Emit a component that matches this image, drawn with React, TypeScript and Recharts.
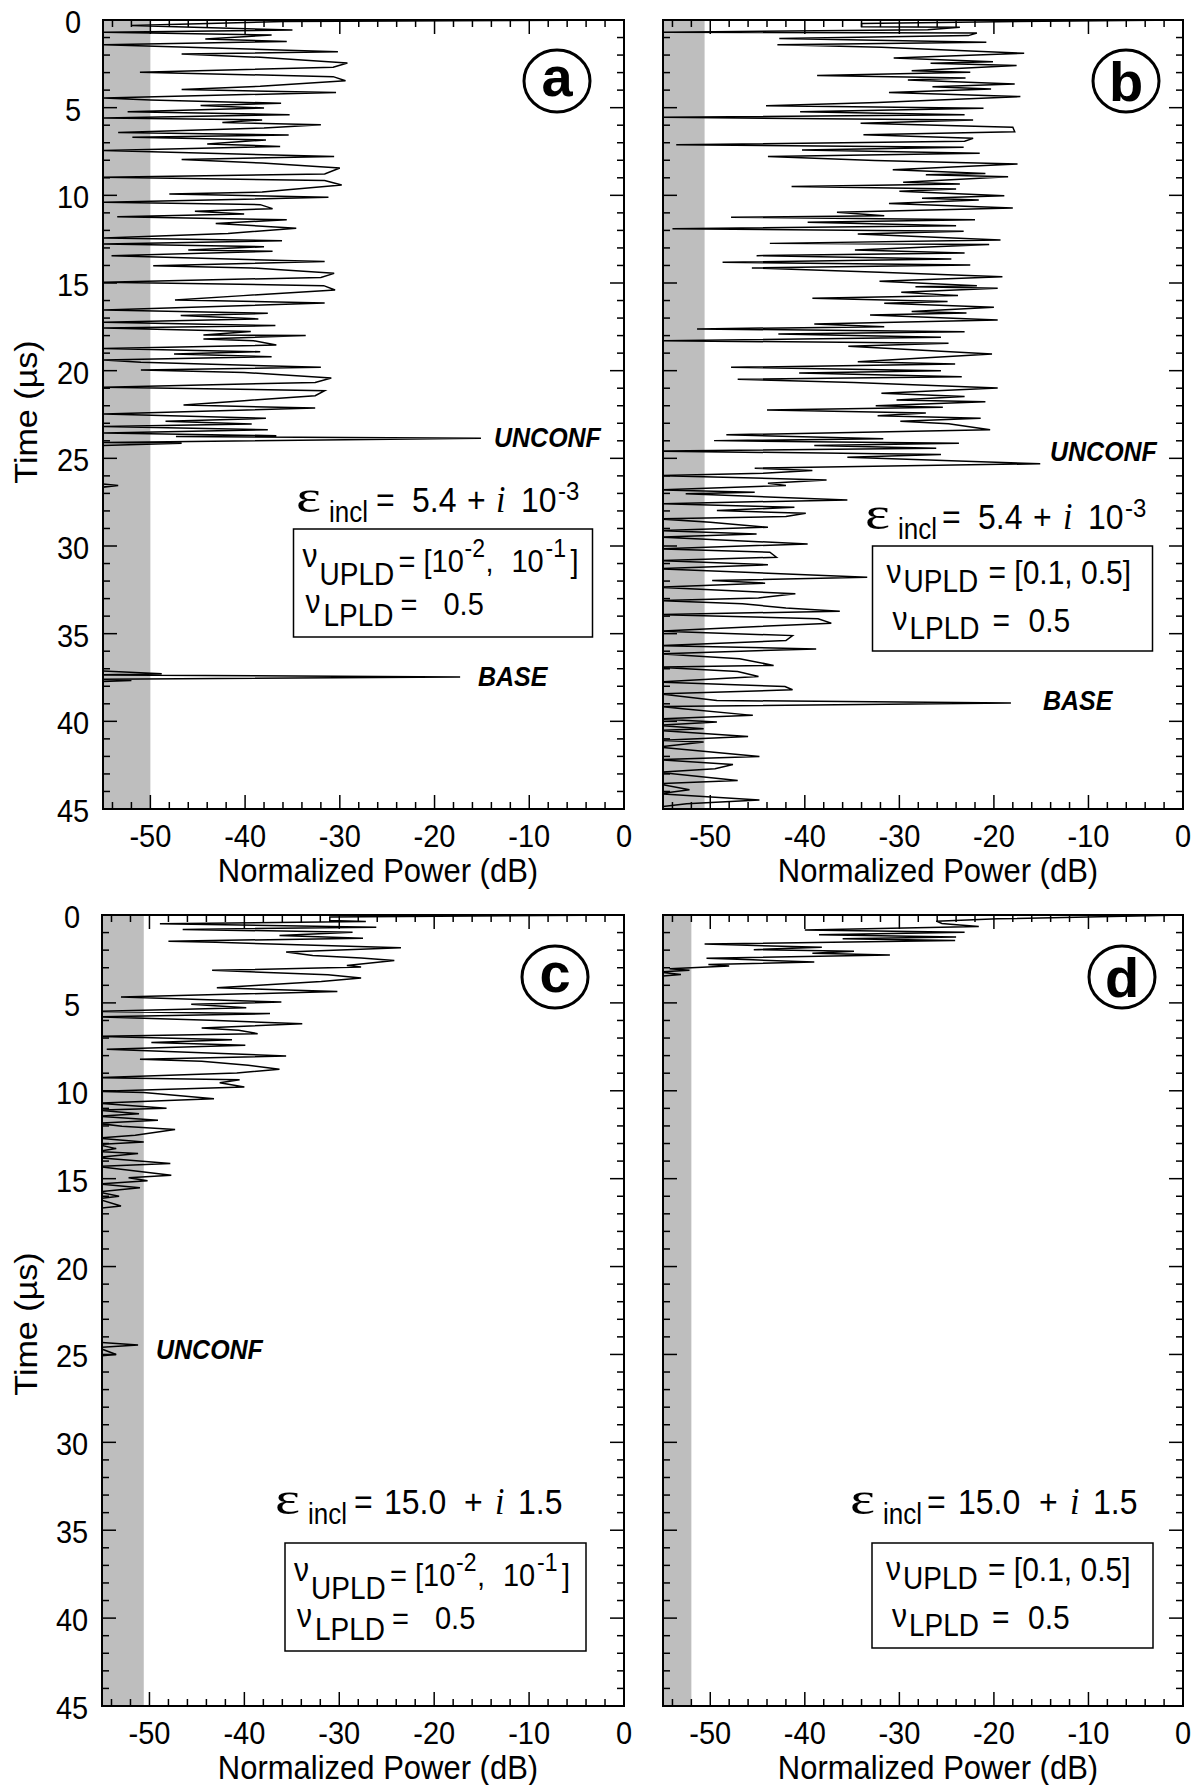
import React from 'react';
import { ScatterChart, Scatter, XAxis, YAxis, ReferenceArea } from 'recharts';

const FONT = '"Liberation Sans", Arial, Helvetica, sans-serif';
const SY = 1.1;

// ---------- data (time in µs, normalized power in dB) ----------
const timeA = [0, 0.08, 0.32, 0.57, 0.7, 0.86, 1.08, 1.22, 1.41, 1.81,
  1.94, 2.13, 2.45, 2.7, 2.98, 3.23, 3.46, 3.78, 3.97, 4.13,
  4.45, 4.56, 4.75, 4.87, 5.02, 5.23, 5.4, 5.59, 5.7, 5.84,
  5.97, 6.16, 6.41, 6.56, 6.69, 6.84, 7.07, 7.21, 7.45, 7.79,
  7.95, 8.16, 8.44, 8.78, 8.97, 9.16, 9.41, 9.81, 9.92, 10.11,
  10.4, 10.53, 10.76, 10.91, 11.06, 11.22, 11.39, 11.6, 11.88, 12.17,
  12.43, 12.59, 12.78, 12.93, 13.12, 13.19, 13.44, 13.78, 14.01, 14.14,
  14.45, 14.68, 14.96, 15.15, 15.4, 15.72, 15.97, 16.14, 16.54, 16.73,
  16.86, 17.05, 17.24, 17.43, 17.57, 17.76, 17.97, 18.0, 18.19, 18.29,
  18.54, 18.73, 18.92, 19.05, 19.2, 19.39, 19.52, 19.81, 19.96, 20.1,
  20.42, 20.67, 20.95, 21.14, 21.43, 21.71, 21.96, 22.13, 22.47, 22.72,
  22.89, 23.04, 23.19, 23.37, 23.56, 23.71, 23.76, 23.86, 24.09, 24.14,
  24.28, 26.4, 26.55, 26.7, 37.1, 37.29, 37.35, 37.47, 37.6, 37.67,
  37.75, 45];
const powerA = [0, -35.9, -52, -35, -54.9, -37.2, -44.2, -35.6, -54.9, -30.2,
  -46.7, -38.4, -29.2, -30.7, -51.1, -30.7, -29.4, -38.4, -46.7, -30.4,
  -54.9, -50, -36.2, -44.7, -38, -52.4, -35.3, -54.9, -38.2, -42.4,
  -32, -38, -53.4, -35.4, -51.9, -37.8, -44, -36.3, -54.9, -30.6,
  -46.7, -38.2, -30, -31.6, -54.9, -31.6, -29.8, -38.2, -48, -31.2,
  -54.9, -38.4, -37.1, -45.3, -40.1, -53.5, -35.6, -43.1, -34.6, -41.8,
  -54.9, -36.1, -54.9, -38, -46, -37.1, -54.1, -31.6, -49.7, -39.3,
  -30.6, -32, -54.9, -31.7, -30.5, -40.2, -47.4, -31.6, -54.9, -37.6,
  -46.8, -38.6, -54.9, -36.8, -54.9, -39.4, -44.4, -33.6, -44.4, -39.1,
  -36.7, -54.9, -38.4, -47.5, -37.2, -54.9, -51, -32, -51, -40.1,
  -30.9, -32.6, -54.9, -31.6, -32.6, -40.1, -46.5, -32.6, -54.9, -37.8,
  -48.4, -39.3, -54.9, -37.6, -54.9, -36.7, -47.3, -15.1, -54.9, -46.7,
  -56, -56, -53.4, -56, -56, -48.8, -55.5, -17.3, -55.5, -52,
  -56, -56];

const timeB = [0, 0.1, 0.2, 0.38, 0.42, 0.55, 0.7, 0.74, 0.89, 1.05,
  1.27, 1.41, 1.56, 1.9, 2.17, 2.38, 2.47, 2.6, 2.89, 2.98,
  3.17, 3.31, 3.42, 3.65, 3.8, 3.94, 4.13, 4.37, 4.7, 4.89,
  5.04, 5.23, 5.4, 5.55, 5.7, 5.89, 6.12, 6.37, 6.54, 6.75,
  6.92, 7.11, 7.26, 7.41, 7.6, 7.78, 8.02, 8.21, 8.54, 8.75,
  8.82, 8.94, 9.26, 9.35, 9.49, 9.64, 9.77, 10.02, 10.17, 10.27,
  10.46, 10.72, 10.97, 11.16, 11.25, 11.39, 11.54, 11.73, 11.9, 12.05,
  12.21, 12.55, 12.74, 12.81, 13.12, 13.29, 13.44, 13.63, 13.82, 13.97,
  14.14, 14.39, 14.64, 14.9, 15.15, 15.21, 15.3, 15.53, 15.72, 15.87,
  16.05, 16.16, 16.39, 16.63, 16.71, 16.83, 17.11, 17.34, 17.49, 17.62,
  17.78, 17.91, 18.1, 18.29, 18.44, 18.61, 19.05, 19.49, 19.62, 19.81,
  20.0, 20.13, 20.34, 20.49, 20.67, 20.99, 21.29, 21.48, 21.67, 21.77,
  22.0, 22.09, 22.24, 22.41, 22.57, 22.72, 22.88, 23.03, 23.37, 23.66,
  23.89, 23.99, 24.14, 24.27, 24.42, 24.59, 24.78, 24.94, 25.31, 25.56,
  25.7, 25.85, 25.98, 26.23, 26.42, 26.55, 26.8, 26.93, 27.02, 27.37,
  27.59, 27.79, 27.98, 28.13, 28.32, 28.45, 28.64, 28.93, 29.12, 29.31,
  29.49, 29.88, 30.16, 30.35, 30.64, 30.83, 31.07, 31.3, 31.78, 31.97,
  32.12, 32.35, 32.73, 32.96, 33.11, 33.3, 33.53, 33.72, 33.91, 34.15,
  34.4, 34.72, 34.86, 35.11, 35.39, 35.68, 35.87, 36.15, 36.43, 36.81,
  36.91, 37.16, 37.44, 37.76, 38.01, 38.2, 38.43, 38.81, 38.96, 39.15,
  39.28, 39.66, 39.86, 40.04, 40.23, 40.42, 40.52, 40.86, 41.09, 41.18,
  41.47, 42.0, 42.19, 42.46, 42.71, 42.9, 43.37, 43.56, 43.9, 44.13,
  44.48, 44.7, 44.89, 45];
const powerB = [0, -19.6, -34, -34, -23.6, -27, -55.5, -21.8, -22.7, -42.7,
  -20.8, -42.9, -31.9, -16.8, -30.6, -20.1, -26.7, -17.6, -28.7, -22.5,
  -38.7, -23, -29.1, -17.8, -26.5, -20.3, -31.1, -17.2, -32.3, -44.1,
  -21.1, -40.5, -23.1, -55.5, -22.2, -34.1, -18, -17.8, -33.8, -22.2,
  -23.1, -53.6, -23.2, -40.3, -21.5, -43.9, -32.6, -17.5, -30.7, -20.9,
  -27.2, -18.5, -29.6, -23.6, -41.4, -24, -30, -18.9, -27.6, -21.6,
  -31.1, -18, -36.6, -31.6, -47.8, -22, -39.7, -24, -54, -23.2,
  -34.4, -19.3, -43.7, -20.5, -34.7, -23.1, -45.1, -24.5, -48.7, -22.5,
  -45.6, -32.1, -19.1, -32.1, -21.8, -28.3, -19.6, -29.8, -23.8, -39.2,
  -24.9, -31.6, -20, -28.7, -22.9, -33.1, -19.6, -39, -31.6, -51.4,
  -23.1, -42.8, -25.6, -55.5, -24.8, -35.4, -20.2, -34.4, -24.1, -47.8,
  -25.6, -40.6, -23.4, -47.1, -34.8, -19.6, -31.9, -23.1, -30.3, -20.9,
  -32.5, -25.4, -44, -27.2, -32.3, -21.4, -29.9, -24.8, -20.4, -48.3,
  -31.7, -49.6, -23.7, -39, -26.1, -55.5, -25.6, -35.5, -15.1, -45.3,
  -39.2, -44.4, -55.5, -37.7, -43.9, -42, -55.5, -45.3, -52.6, -35.5,
  -55.5, -41.1, -49.3, -39.9, -42, -55.5, -50, -43.9, -55.5, -45.1,
  -55.5, -39.7, -55.5, -43.7, -43, -55.5, -43.9, -55.5, -33.4, -49.8,
  -44.2, -55.5, -41, -44.9, -55.5, -46.6, -42, -36.3, -55.5, -38.6,
  -37.2, -50, -55.5, -41.3, -42, -55.5, -38.8, -55.5, -46.9, -43.3,
  -55.5, -47.1, -44.9, -55.5, -42.1, -41.3, -55.5, -49.3, -18.2, -55.5,
  -52.9, -45.5, -55.5, -49.3, -55.5, -50.7, -55.5, -46, -55.5, -50.7,
  -55.5, -44.8, -55.5, -47.6, -49.5, -55.5, -47.1, -55.5, -52.2, -55.5,
  -44.8, -52.5, -55.5, -55.5];

const timeC = [0, 0.12, 0.31, 0.37, 0.5, 0.69, 0.82, 0.98, 1.16, 1.32,
  1.49, 1.55, 1.87, 2.11, 2.3, 2.45, 2.59, 2.87, 2.96, 3.15,
  3.4, 3.59, 3.78, 4.01, 4.14, 4.35, 4.67, 4.95, 5.08, 5.27,
  5.48, 5.61, 5.8, 5.99, 6.18, 6.43, 6.56, 6.75, 6.9, 7.09,
  7.26, 7.41, 7.64, 8.02, 8.21, 8.32, 8.55, 8.78, 8.99, 9.25,
  9.37, 9.54, 9.78, 10.03, 10.1, 10.45, 10.7, 10.99, 11.1, 11.3,
  11.45, 11.67, 11.85, 12.02, 12.2, 12.53, 12.7, 12.91, 13.05, 13.29,
  13.45, 13.57, 13.8, 14.14, 14.3, 14.8, 14.95, 15.12, 15.3, 15.52,
  15.75, 16.0, 16.15, 16.56, 16.7, 24.3, 24.46, 24.6, 25.0, 25.1,
  45];
const powerC = [0, -31, -31, -27.2, -48.9, -26.1, -46.5, -28.6, -36.3, -27.5,
  -48, -43, -23.5, -35.6, -32.8, -27.7, -24.2, -29.2, -27.7, -43.4,
  -31.2, -27.7, -31.9, -38.9, -42.9, -30.2, -53, -36.1, -45.6, -39.8,
  -55.5, -37.3, -55.5, -43.6, -33.9, -44.5, -40.6, -38.6, -55.5, -41.3,
  -49.8, -39.9, -54.5, -35.6, -51, -44.5, -39.6, -36.3, -40.8, -55.5,
  -40.5, -42.6, -40, -55.5, -50.6, -43.2, -55.5, -48.2, -55.5, -51.1,
  -55.5, -49.1, -55.5, -52.9, -47.3, -51.5, -55.5, -50.6, -55.5, -53.5,
  -55.5, -51.2, -55.5, -47.8, -55.5, -47.7, -52.2, -50.2, -55.5, -51,
  -55.5, -53.2, -55.5, -53, -55.5, -55.5, -51.2, -55.5, -53.5, -55.5,
  -55.5];

const timeD = [0, 0.22, 0.35, 0.48, 0.52, 0.66, 0.86, 0.98, 1.12, 1.25,
  1.35, 1.45, 1.65, 1.84, 1.97, 2.06, 2.17, 2.27, 2.46, 2.55,
  2.68, 2.81, 2.9, 3.06, 3.15, 3.25, 3.38, 3.5, 45];
const powerD = [0, -19.6, -26.1, -25.5, -24.6, -21.6, -40, -23.1, -38.5, -24,
  -36, -24.1, -50.6, -38.2, -45.4, -34.8, -39.2, -31, -50.4, -45.5,
  -39, -50.2, -48, -54.3, -52.2, -55.5, -53.1, -55.5, -55.5];

// noise-floor (gray band) upper limits, dB
const bandA = -50;
const bandB = -50.6;
const bandC = -50.6;
const bandD = -52;

// axis ticks
const xTicks = [-54, -52, -50, -48, -46, -44, -42, -40, -38, -36, -34, -32, -30, -28,
  -26, -24, -22, -20, -18, -16, -14, -12, -10, -8, -6, -4, -2, 0];
const yTicks = [0, 1, 2, 3, 4, 5, 6, 7, 8, 9, 10, 11, 12, 13, 14, 15, 16, 17, 18, 19, 20,
  21, 22, 23, 24, 25, 26, 27, 28, 29, 30, 31, 32, 33, 34, 35, 36, 37, 38, 39, 40,
  41, 42, 43, 44, 45];

const toData = (ts: number[], ps: number[]) => ts.map((t, i) => ({ t, p: ps[i] }));
const dataA = toData(timeA, powerA);
const dataB = toData(timeB, powerB);
const dataC = toData(timeC, powerC);
const dataD = toData(timeD, powerD);

const NoShape = () => <g />;

// text helper: positioned by translate so that glyphs can be stretched slightly
const T = (x: number, y: number, s: number, str: string, extra: any = {}, sx = 1, sy = SY) => (
  <text transform={`translate(${x} ${y}) scale(${sx} ${sy})`} x={0} y={0} fontSize={s}
    fontFamily={FONT} fill="#000" {...extra}>{str}</text>
);

type PanelProps = {
  left: number; top: number; plotW: number; plotH: number;
  data: { t: number; p: number }[]; band: number; yLabels: boolean;
};

function Panel({ left, top, plotW, plotH, data, band, yLabels }: PanelProps) {
  const ML = 100, MT = 20, MR = 20, XH = 60;
  const W = ML + plotW + MR;
  const H = MT + plotH + XH;
  const pl = ML, pr = ML + plotW, pt = MT, pb = MT + plotH;

  const renderXTick = (props: any) => {
    const { x, payload } = props;
    const v = payload.value;
    const major = v % 10 === 0;
    const len = major ? 14 : 7;
    return (
      <g>
        <line x1={x} x2={x} y1={pb} y2={pb - len} stroke="#000" strokeWidth={1.5} />
        <line x1={x} x2={x} y1={pt} y2={pt + len} stroke="#000" strokeWidth={1.5} />
        {major ? T(x, pb + 38, 29, String(v), { textAnchor: 'middle' }) : null}
      </g>
    );
  };
  const renderYTick = (props: any) => {
    const { y, payload } = props;
    const v = payload.value;
    const major = v % 5 === 0;
    const len = major ? 14 : 7;
    return (
      <g>
        <line x1={pl} x2={pl + len} y1={y} y2={y} stroke="#000" strokeWidth={1.5} />
        <line x1={pr} x2={pr - len} y1={y} y2={y} stroke="#000" strokeWidth={1.5} />
        {major && yLabels ? T(pl - 30, y + 13, 29, String(v), { textAnchor: 'middle' }) : null}
      </g>
    );
  };

  return (
    <div style={{ position: 'absolute', left: left - ML, top: top - MT }}>
      <ScatterChart width={W} height={H} margin={{ top: MT, right: MR, bottom: 0, left: 0 }}>
        <XAxis type="number" dataKey="p" domain={[-55, 0]} allowDataOverflow ticks={xTicks}
          interval={0} height={XH} axisLine={false} tickLine={false} tick={renderXTick} />
        <YAxis type="number" dataKey="t" domain={[0, 45]} reversed allowDataOverflow ticks={yTicks}
          interval={0} width={ML} axisLine={false} tickLine={false} tick={renderYTick} />
        <ReferenceArea x1={-55} x2={band} y1={0} y2={45} fill="#bebebe" fillOpacity={1} stroke="none" />
        <Scatter data={data} fill="#000" isAnimationActive={false} shape={NoShape}
          line={{ stroke: '#000', strokeWidth: 1.5 }} lineJointType="linear" />
        <ReferenceArea x1={-55} x2={0} y1={0} y2={45} fill="none" stroke="#000" strokeWidth={2} />
      </ScatterChart>
    </div>
  );
}

function EpsLine({ xs, y, value, imag, sup }: { xs: number[]; y: number; value: string; imag: string; sup?: string }) {
  return (
    <g>
      {T(xs[0], y, 44, 'ε', { fontFamily: '"Liberation Serif", serif' }, 1.35, 1.05)}
      {T(xs[1], y + 10, 26, 'incl')}
      {T(xs[2], y, 32, '=')}
      {T(xs[3], y, 32, value)}
      {T(xs[4], y, 32, '+')}
      {T(xs[5], y, 34, 'i', { fontFamily: '"Liberation Serif", serif', fontStyle: 'italic' })}
      {T(xs[6], y, 32, imag)}
      {sup ? T(xs[7], y - 12, 24, sup) : null}
    </g>
  );
}

function BoxA({ bx, by, w }: { bx: number; by: number; w: number }) {
  return (
    <g>
      <rect x={bx} y={by} width={w} height={108} fill="none" stroke="#000" strokeWidth={1.5} />
      {T(bx + 9, by + 38, 30, 'ν')}
      {T(bx + 26, by + 56, 28, 'UPLD')}
      {T(bx + 105, by + 43, 29, '= [10')}
      {T(bx + 171, by + 28, 23, '-2')}
      {T(bx + 192, by + 43, 29, ',')}
      {T(bx + 218, by + 43, 29, '10')}
      {T(bx + 252, by + 28, 23, '-1')}
      {T(bx + 277, by + 43, 29, ']')}
      {T(bx + 12, by + 84, 30, 'ν')}
      {T(bx + 30, by + 97, 28, 'LPLD')}
      {T(bx + 107, by + 86, 29, '=')}
      {T(bx + 150, by + 86, 29, '0.5')}
    </g>
  );
}

function BoxB({ bx, by, w }: { bx: number; by: number; w: number }) {
  return (
    <g>
      <rect x={bx} y={by} width={w} height={105} fill="none" stroke="#000" strokeWidth={1.5} />
      {T(bx + 14, by + 37, 30, 'ν')}
      {T(bx + 31, by + 46, 28, 'UPLD')}
      {T(bx + 116, by + 38, 30, '= [0.1, 0.5]')}
      {T(bx + 20, by + 84, 30, 'ν')}
      {T(bx + 37, by + 93, 28, 'LPLD')}
      {T(bx + 120, by + 86, 30, '=')}
      {T(bx + 156, by + 86, 30, '0.5')}
    </g>
  );
}

function Circ({ cx, cy, letter, dy }: { cx: number; cy: number; letter: string; dy: number }) {
  return (
    <g>
      <ellipse cx={cx} cy={cy} rx={33} ry={31} fill="none" stroke="#000" strokeWidth={3} />
      {T(cx, cy + dy, 56, letter, { textAnchor: 'middle', fontWeight: 'bold' }, 1, 1)}
    </g>
  );
}

const lab = { fontWeight: 'bold', fontStyle: 'italic' };

export default function App() {
  return (
    <div style={{ position: 'absolute', left: 0, top: 0, width: 1198, height: 1785, background: '#fff' }}>
      <Panel left={103} top={19.5} plotW={521} plotH={789} data={dataA} band={bandA} yLabels={true} />
      <Panel left={663} top={19.5} plotW={520} plotH={789} data={dataB} band={bandB} yLabels={false} />
      <Panel left={102} top={915} plotW={522} plotH={791} data={dataC} band={bandC} yLabels={true} />
      <Panel left={663} top={915} plotW={520} plotH={791} data={dataD} band={bandD} yLabels={false} />
      <svg width={1198} height={1785} style={{ position: 'absolute', left: 0, top: 0, pointerEvents: 'none' }}>
        <text transform="translate(37 412) rotate(-90) scale(1.1 1)" x={0} y={0} fontSize={31}
          fontFamily={FONT} textAnchor="middle" fill="#000">Time (µs)</text>
        <text transform="translate(37 1324) rotate(-90) scale(1.1 1)" x={0} y={0} fontSize={31}
          fontFamily={FONT} textAnchor="middle" fill="#000">Time (µs)</text>
        {T(378, 882, 31, 'Normalized Power (dB)', { textAnchor: 'middle' })}
        {T(938, 882, 31, 'Normalized Power (dB)', { textAnchor: 'middle' })}
        {T(378, 1779, 31, 'Normalized Power (dB)', { textAnchor: 'middle' })}
        {T(938, 1779, 31, 'Normalized Power (dB)', { textAnchor: 'middle' })}

        <Circ cx={557} cy={81} letter="a" dy={15} />
        <Circ cx={1126} cy={81} letter="b" dy={20} />
        <Circ cx={555} cy={977} letter="c" dy={15} />
        <Circ cx={1122} cy={977} letter="d" dy={20} />

        {T(494, 447, 25, 'UNCONF', lab)}
        {T(478, 686, 25, 'BASE', lab)}
        {T(1050, 461, 25, 'UNCONF', lab)}
        {T(1043, 710, 25, 'BASE', lab)}
        {T(156, 1359, 25, 'UNCONF', lab)}

        <EpsLine xs={[296, 329, 376, 412, 467, 496, 521, 558]} y={512} value="5.4" imag="10" sup="-3" />
        <EpsLine xs={[865, 898, 942, 978, 1033, 1063, 1088, 1125]} y={529} value="5.4" imag="10" sup="-3" />
        <EpsLine xs={[275, 308, 354, 384, 464, 495, 518]} y={1514} value="15.0" imag="1.5" />
        <EpsLine xs={[850, 883, 927, 958, 1039, 1070, 1093]} y={1514} value="15.0" imag="1.5" />

        <BoxA bx={293.5} by={529} w={299} />
        <BoxB bx={872.5} by={546} w={280} />
        <BoxA bx={285} by={1543} w={301} />
        <BoxB bx={872} by={1543} w={281} />
      </svg>
    </div>
  );
}
